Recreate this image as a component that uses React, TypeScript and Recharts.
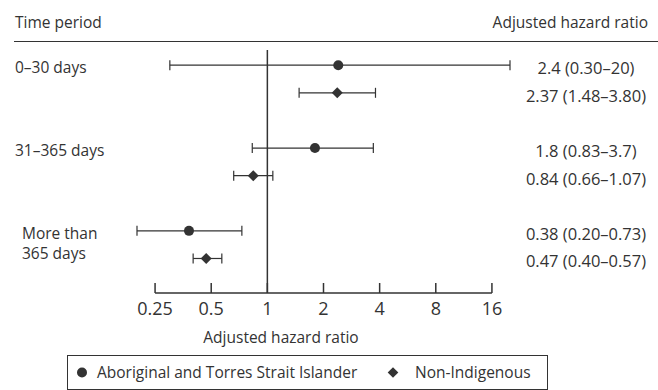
import React from "react";
import {
	ScatterChart,
	Scatter,
	XAxis,
	YAxis,
	ErrorBar,
	ReferenceLine,
	Legend,
} from "recharts";

const FONT = "'Open Sans', sans-serif";
const INK = "#333333";

// time periods (one group of two rows each)
const periods = ["0–30 days", "31–365 days", "More than\n365 days"];

// Aboriginal and Torres Strait Islander
const aborHR = [2.4, 1.8, 0.38];
const aborLow = [0.3, 0.83, 0.2];
const aborHigh = [20, 3.7, 0.73];
const aborText = ["2.4 (0.30–20)", "1.8 (0.83–3.7)", "0.38 (0.20–0.73)"];

// Non-Indigenous
const nonHR = [2.37, 0.84, 0.47];
const nonLow = [1.48, 0.66, 0.4];
const nonHigh = [3.8, 1.07, 0.57];
const nonText = ["2.37 (1.48–3.80)", "0.84 (0.66–1.07)", "0.47 (0.40–0.57)"];

const tickValues = [0.25, 0.5, 1, 2, 4, 8, 16];

const makeRows = (hr: number[], lo: number[], hi: number[], offset: number) =>
	hr.map((v, i) => ({
		row: i * 3 + offset,
		lx: Math.log2(v),
		err: [Math.log2(v) - Math.log2(lo[i]), Math.log2(hi[i]) - Math.log2(v)],
	}));

const aborData = makeRows(aborHR, aborLow, aborHigh, 0);
const nonData = makeRows(nonHR, nonLow, nonHigh, 1);

const rowText = (row: number) =>
	row % 3 === 0 ? aborText[row / 3] : nonText[(row - 1) / 3];

const Dot = (p: any) => <circle cx={p.cx} cy={p.cy} r={5} fill={INK} />;

const Diamond = (p: any) => {
	const s = 5.5;
	return (
		<polygon
			points={`${p.cx},${p.cy - s} ${p.cx + s},${p.cy} ${p.cx},${p.cy + s} ${p.cx - s},${p.cy}`}
			fill={INK}
		/>
	);
};

const XTick = (p: any) => {
	const v = Math.round(2 ** p.payload.value * 100) / 100;
	return (
		<g>
			<line x1={p.x} x2={p.x} y1={p.y} y2={p.y - 10} stroke={INK} strokeWidth={1.5} />
			<text
				x={p.x}
				y={p.y + 15}
				textAnchor="middle"
				dominantBaseline="central"
				fontSize={18}
				fontFamily={FONT}
				fill={INK}
			>
				{v}
			</text>
		</g>
	);
};

const LeftTick = (p: any) => {
	const lines = periods[p.payload.value / 3].split("\n");
	return (
		<g>
			{lines.map((t, k) => (
				<text
					key={k}
					x={lines.length > 1 ? 22 : 15}
					y={p.y + 2 + k * 20}
					dominantBaseline="central"
					fontSize={15.5}
					fontFamily={FONT}
					fill={INK}
				>
					{t}
				</text>
			))}
		</g>
	);
};

const RightTick = (p: any) => (
	<text
		x={p.x + 66}
		y={p.y + 2.5}
		textAnchor="middle"
		dominantBaseline="central"
		fontSize={16.5}
		fontFamily={FONT}
		fill={INK}
	>
		{rowText(p.payload.value)}
	</text>
);

const LegendBox = () => (
	<div
		style={{
			position: "relative",
			boxSizing: "border-box",
			height: 35,
			border: `1px solid ${INK}`,
			fontFamily: FONT,
			fontSize: 15.5,
			color: INK,
		}}
	>
		<svg width={481} height={33} style={{ position: "absolute", left: 0, top: 0 }}>
			<circle cx={14} cy={16.5} r={5} fill={INK} />
			<polygon points="325,11.2 330.3,16.5 325,21.8 319.7,16.5" fill={INK} />
		</svg>
		<span style={{ position: "absolute", left: 29, top: 6, lineHeight: "20px" }}>
			Aboriginal and Torres Strait Islander
		</span>
		<span style={{ position: "absolute", left: 347, top: 6, lineHeight: "20px" }}>
			Non-Indigenous
		</span>
	</div>
);

const AxisTitle = (p: any) => (
	<text
		x={281}
		y={p.viewBox.y + 44}
		textAnchor="middle"
		dominantBaseline="central"
		fontSize={15.5}
		fontFamily={FONT}
		fill={INK}
	>
		Adjusted hazard ratio
	</text>
);

export default function App() {
	return (
		<div
			style={{
				position: "absolute",
				left: 0,
				top: 0,
				width: 658,
				height: 390,
				background: "#fff",
				fontFamily: FONT,
				color: INK,
			}}
		>
			<div style={{ position: "absolute", left: 15, top: 11, fontSize: 15.5, lineHeight: "22px" }}>
				Time period
			</div>
			<div
				style={{
					position: "absolute",
					right: 10,
					top: 11,
					fontSize: 15.5,
					lineHeight: "22px",
				}}
			>
				Adjusted hazard ratio
			</div>
			<div
				style={{
					position: "absolute",
					left: 14,
					right: 0,
					top: 41,
					height: 1,
					background: INK,
				}}
			/>
			<ScatterChart
				width={658}
				height={390}
				margin={{ top: 50, right: 0, bottom: 0, left: 0 }}
			>
				<XAxis
					type="number"
					dataKey="lx"
					domain={[-2.5, 4.5]}
					ticks={tickValues.map(Math.log2)}
					interval={0}
					allowDataOverflow
					axisLine={false}
					tickLine={false}
					tickSize={0}
					tickMargin={0}
					height={62}
					tick={<XTick />}
					label={<AxisTitle />}
				/>
				<YAxis
					type="number"
					dataKey="row"
					domain={[-0.55, 8.25]}
					reversed
					allowDataOverflow
					ticks={[0, 3, 6]}
					interval={0}
					width={127}
					axisLine={false}
					tickLine={false}
					tick={<LeftTick />}
				/>
				<YAxis
					yAxisId="right"
					orientation="right"
					type="number"
					dataKey="row"
					domain={[-0.55, 8.25]}
					reversed
					allowDataOverflow
					ticks={[0, 1, 3, 4, 6, 7]}
					interval={0}
					width={138}
					axisLine={false}
					tickLine={false}
					tickSize={0}
					tickMargin={0}
					tick={<RightTick />}
				/>
				<ReferenceLine x={0} stroke={INK} strokeWidth={1.5} />
				<ReferenceLine
					segment={[
						{ x: Math.log2(tickValues[0]), y: 8.25 },
						{ x: Math.log2(tickValues[tickValues.length - 1]), y: 8.25 },
					]}
					stroke={INK}
					strokeWidth={1.5}
				/>
				<Scatter
					name="Aboriginal and Torres Strait Islander"
					data={aborData}
					shape={Dot}
					isAnimationActive={false}
				>
					<ErrorBar dataKey="err" direction="x" width={5} stroke={INK} strokeWidth={1.2} />
				</Scatter>
				<Scatter
					name="Non-Indigenous"
					data={nonData}
					shape={Diamond}
					isAnimationActive={false}
				>
					<ErrorBar dataKey="err" direction="x" width={5} stroke={INK} strokeWidth={1.2} />
				</Scatter>
				<Legend
					verticalAlign="bottom"
					content={<LegendBox />}
					wrapperStyle={{ left: 67, width: 481, bottom: 0 }}
				/>
			</ScatterChart>
		</div>
	);
}
